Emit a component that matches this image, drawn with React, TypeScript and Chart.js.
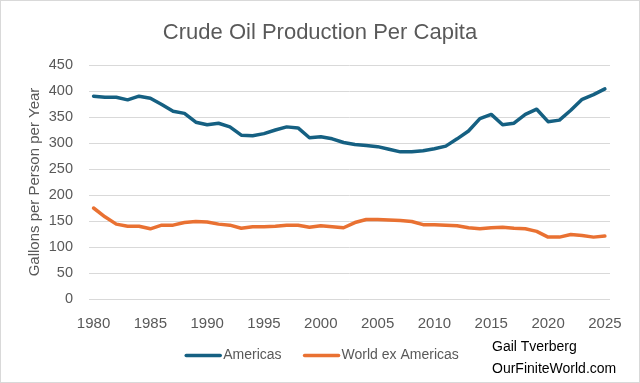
import React, { useEffect, useRef } from "react";
import { Chart, registerables } from "chart.js";

Chart.register(...registerables);

// Years 1980–2025
const years: number[] = [
  1980, 1981, 1982, 1983, 1984, 1985, 1986, 1987, 1988, 1989,
  1990, 1991, 1992, 1993, 1994, 1995, 1996, 1997, 1998, 1999,
  2000, 2001, 2002, 2003, 2004, 2005, 2006, 2007, 2008, 2009,
  2010, 2011, 2012, 2013, 2014, 2015, 2016, 2017, 2018, 2019,
  2020, 2021, 2022, 2023, 2024, 2025,
];

// Gallons of crude oil per person per year
const americas: number[] = [
  390, 388, 388, 383, 390, 386, 374, 361, 357, 340,
  335, 338, 331, 315, 314, 318, 325, 331, 329, 310,
  312, 308, 301, 297, 295, 293, 288, 283, 283, 285,
  289, 294, 308, 323, 347, 355, 335, 338, 355, 365,
  341, 344, 363, 384, 393, 404,
];

const worldExAmericas: number[] = [
  175, 158, 144, 140, 140, 135, 142, 142, 147, 149,
  148, 144, 142, 136, 139, 139, 140, 142, 142, 138,
  141, 139, 137, 147, 153, 153, 152, 151, 149, 143,
  143, 142, 141, 137, 135, 137, 138, 136, 135, 130,
  119, 119, 124, 122, 119, 121,
];

const yTicks: number[] = [0, 50, 100, 150, 200, 250, 300, 350, 400, 450];
const xTicks: number[] = [1980, 1985, 1990, 1995, 2000, 2005, 2010, 2015, 2020, 2025];

const chartTitle = "Crude Oil Production Per Capita";
const yAxisTitle = "Gallons per Person per Year";
const seriesNames = ["Americas", "World ex Americas"];
const creditLines = ["Gail Tverberg", "OurFiniteWorld.com"];

const GRAY = "#595959";
const FONT = "'Liberation Sans', Arial, sans-serif";

// White background, thin frame, centred title, legend and credit lines
const frameAndNotes = {
  id: "frameAndNotes",
  beforeDraw(chart: any) {
    const { ctx, width, height } = chart;
    ctx.save();
    ctx.fillStyle = "#ffffff";
    ctx.fillRect(0, 0, width, height);
    ctx.strokeStyle = "#d9d9d9";
    ctx.lineWidth = 1;
    ctx.strokeRect(0.5, 0.5, width - 1, height - 1);
    ctx.restore();
  },
  afterDraw(chart: any) {
    const { ctx, width } = chart;
    ctx.save();
    // title
    ctx.font = `22px ${FONT}`;
    ctx.fillStyle = GRAY;
    ctx.textAlign = "center";
    ctx.textBaseline = "alphabetic";
    ctx.fillText(chartTitle, width / 2, 38.5);

    // legend
    ctx.font = `14px ${FONT}`;
    ctx.textBaseline = "middle";
    ctx.textAlign = "left";
    const lineLen = 36;
    const gapText = 2;
    const gapItem = 22;
    const items = chart.data.datasets.map((d: any) => ({
      label: d.label,
      color: d.borderColor,
      w: ctx.measureText(d.label).width,
    }));
    const total =
      items.reduce((s: number, it: any) => s + lineLen + gapText + it.w, 0) +
      gapItem * (items.length - 1);
    let x = 322 - total / 2;
    const ly = 355.5;
    items.forEach((it: any) => {
      ctx.strokeStyle = it.color;
      ctx.lineWidth = 3.5;
      ctx.lineCap = "round";
      ctx.beginPath();
      ctx.moveTo(x + 1, ly);
      ctx.lineTo(x + lineLen - 1, ly);
      ctx.stroke();
      x += lineLen + gapText;
      ctx.fillStyle = GRAY;
      ctx.fillText(it.label, x, ly);
      x += it.w + gapItem;
    });

    // credit
    ctx.fillStyle = "#000000";
    ctx.font = `14px ${FONT}`;
    ctx.fillText(creditLines[0], 492, 347.5);
    ctx.fillText(creditLines[1], 492, 369);
    ctx.restore();
  },
};

export default function App() {
  const canvasRef = useRef<HTMLCanvasElement | null>(null);

  useEffect(() => {
    if (!canvasRef.current) return;
    const lineStyle = {
      borderWidth: 3.5,
      pointRadius: 0,
      tension: 0,
      borderCapStyle: "round" as const,
      borderJoinStyle: "round" as const,
    };
    const chart = new Chart(canvasRef.current, {
      type: "line",
      data: {
        datasets: [
          {
            label: seriesNames[0],
            data: years.map((y, i) => ({ x: y, y: americas[i] })),
            borderColor: "#156082",
            backgroundColor: "#156082",
            ...lineStyle,
          },
          {
            label: seriesNames[1],
            data: years.map((y, i) => ({ x: y, y: worldExAmericas[i] })),
            borderColor: "#E97132",
            backgroundColor: "#E97132",
            ...lineStyle,
          },
        ],
      },
      options: {
        responsive: false,
        animation: false,
        layout: { padding: { left: 0, right: 30, top: 65, bottom: 0 } },
        plugins: {
          legend: { display: false },
          tooltip: { enabled: false },
          title: { display: false },
        },
        scales: {
          x: {
            type: "linear",
            min: 1979.6,
            max: 2025.45,
            grid: { display: false },
            border: { display: false },
            ticks: {
              includeBounds: false,
              stepSize: 5,
              padding: 8,
              color: GRAY,
              font: { family: FONT, size: 15 },
              maxRotation: 0,
              callback: (v: any) => String(v),
            },
            afterBuildTicks: (scale: any) => {
              scale.ticks = xTicks.map((v) => ({ value: v }));
            },
            afterFit: (scale: any) => {
              scale.height = 84;
            },
          },
          y: {
            min: 0,
            max: 450,
            grid: { color: "#d9d9d9", lineWidth: 1, drawTicks: false },
            border: { display: false },
            ticks: {
              stepSize: 50,
              padding: 16,
              color: GRAY,
              font: { family: FONT, size: 14.5 },
            },
            afterBuildTicks: (scale: any) => {
              scale.ticks = yTicks.map((v) => ({ value: v }));
            },
            title: {
              display: true,
              text: yAxisTitle,
              color: GRAY,
              font: { family: FONT, size: 15 },
              padding: { top: 26, bottom: 0 },
            },
            afterFit: (scale: any) => {
              scale.width = 89;
            },
          },
        },
      },
      plugins: [frameAndNotes],
    });
    return () => chart.destroy();
  }, []);

  return (
    <div style={{ position: "absolute", left: 0, top: 0, width: 640, height: 383 }}>
      <canvas ref={canvasRef} width={640} height={383} />
    </div>
  );
}
